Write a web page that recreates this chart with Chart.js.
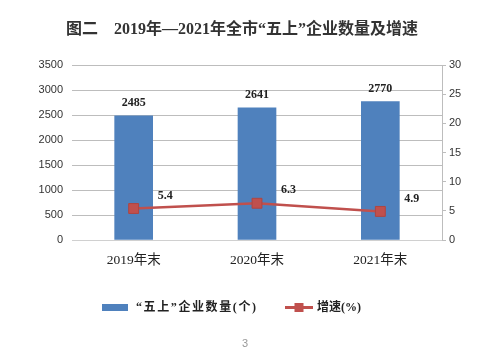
<!DOCTYPE html>
<html><head><meta charset="utf-8">
<script src="https://cdn.jsdelivr.net/npm/chart.js@4"></script>
<style>html,body{margin:0;padding:0;background:#fff}#wrap{width:500px;height:355px;position:relative}</style>
</head><body><div id="wrap"><canvas id="c" width="500" height="355"></canvas></div>
<script>
const categories = ['2019年末', '2020年末', '2021年末'];
const companyCounts = [2485, 2641, 2770];
const growthRates = [5.4, 6.3, 4.9];
const leftTicks = [0, 500, 1000, 1500, 2000, 2500, 3000, 3500];
const rightTicks = [0, 5, 10, 15, 20, 25, 30];
const titleText = '图二　2019年—2021年全市“五上”企业数量及增速';
const barLabel = '“五上”企业数量(个)';
const lineLabel = '增速(%)';

const SERIF = "'Liberation Serif', 'Noto Sans CJK SC', serif";
const BLUE = '#4F81BD', RED = '#C0504D';

const extras = {
  id: 'extras',
  afterDatasetsDraw(chart) {
    const ctx = chart.ctx;
    ctx.save();
    ctx.font = "bold 12px " + SERIF;
    ctx.fillStyle = '#222';
    ctx.textAlign = 'center'; ctx.textBaseline = 'middle';
    chart.getDatasetMeta(0).data.forEach((el, i) => {
      ctx.fillText(String(companyCounts[i]), el.x, el.y - 13);
    });
    chart.getDatasetMeta(1).data.forEach((el, i) => {
      ctx.textAlign = 'left';
      ctx.fillText(growthRates[i].toFixed(1), el.x + 24, el.y - 13);
    });
    ctx.restore();
  },
  afterDraw(chart) {
    const ctx = chart.ctx;
    ctx.save();
    ctx.fillStyle = '#333';
    ctx.textBaseline = 'middle';
    ctx.textAlign = 'center';
    ctx.font = "bold 16px " + SERIF;
    ctx.fillText(titleText, 242, 30);
    ctx.fillStyle = BLUE;
    ctx.fillRect(102, 304, 26, 7);
    ctx.fillStyle = '#222';
    ctx.textAlign = 'left';
    ctx.font = "bold 12px " + SERIF;
    ctx.letterSpacing = '1.6px';
    ctx.fillText(barLabel, 136, 307.5);
    ctx.letterSpacing = '0px';
    ctx.strokeStyle = RED; ctx.lineWidth = 3;
    ctx.beginPath(); ctx.moveTo(285, 307.5); ctx.lineTo(313, 307.5); ctx.stroke();
    ctx.fillStyle = RED;
    ctx.fillRect(294.5, 303, 9, 9);
    ctx.fillStyle = '#222';
    ctx.fillText(lineLabel, 317, 307.5);
    ctx.fillStyle = '#999';
    ctx.textAlign = 'center';
    ctx.font = "11px 'Liberation Sans', sans-serif";
    ctx.fillText('3', 245, 344);
    ctx.restore();
  }
};

new Chart(document.getElementById('c'), {
  type: 'bar',
  data: {
    labels: categories,
    datasets: [
      { type: 'bar', label: barLabel, data: companyCounts, backgroundColor: BLUE, borderWidth: 0, barThickness: 38, yAxisID: 'y', order: 2 },
      { type: 'line', label: lineLabel, data: growthRates, borderColor: RED, borderWidth: 2.5, pointStyle: 'rect', pointRadius: 7, pointBackgroundColor: RED, pointBorderColor: '#B04540', pointBorderWidth: 1, yAxisID: 'y1', order: 1, tension: 0 }
    ]
  },
  options: {
    responsive: false, animation: false, devicePixelRatio: 1,
    layout: { padding: { top: 65, bottom: 0, left: 0, right: 0 } },
    plugins: { legend: { display: false }, title: { display: false }, tooltip: { enabled: false } },
    scales: {
      x: {
        offset: true,
        grid: { display: false, drawTicks: false },
        border: { display: true, color: '#d0d0d0' },
        ticks: { padding: 12, color: '#222', font: { family: SERIF, size: 13.5 } },
        afterFit(s) { s.height = 115; }
      },
      y: {
        position: 'left', min: 0, max: 3500,
        afterBuildTicks(s) { s.ticks = leftTicks.map(v => ({ value: v })); },
        grid: { color: '#bdbdbd', drawTicks: false },
        border: { display: false },
        ticks: { padding: 9, color: '#333', font: { family: "'Liberation Sans', sans-serif", size: 11 }, callback: v => String(v) },
        afterFit(s) { s.width = 72; }
      },
      y1: {
        position: 'right', min: 0, max: 30,
        afterBuildTicks(s) { s.ticks = rightTicks.map(v => ({ value: v })); },
        grid: { drawOnChartArea: false, color: '#bdbdbd', tickLength: 4 },
        border: { display: true, color: '#bdbdbd' },
        ticks: { padding: 3, color: '#333', font: { family: "'Liberation Sans', sans-serif", size: 11 }, callback: v => String(v) },
        afterFit(s) { s.width = 58; }
      }
    }
  },
  plugins: [extras]
});
</script></body></html>
